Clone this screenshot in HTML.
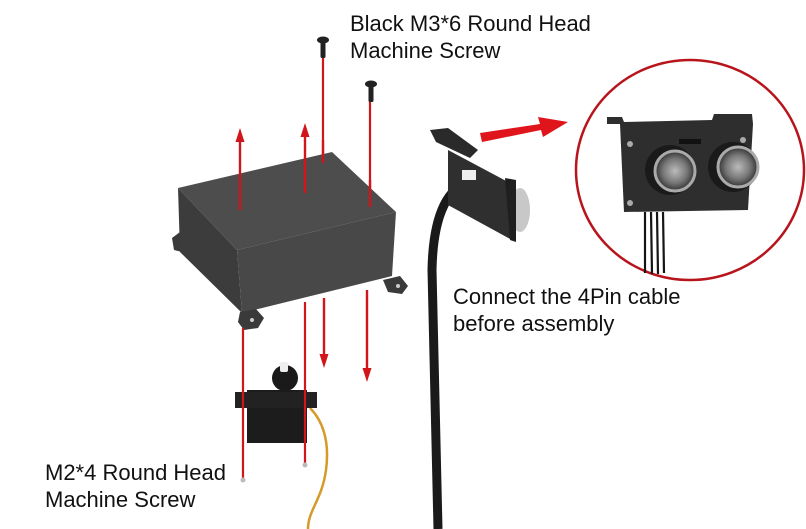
<!DOCTYPE html>
<html><head><meta charset="utf-8"><style>
html,body{margin:0;padding:0;background:#fff}
svg{display:block}
text{font-family:"Liberation Sans Narrow","Liberation Sans",sans-serif;font-size:22px;fill:#111}
</style></head><body>
<svg width="806" height="529" viewBox="0 0 806 529" xmlns="http://www.w3.org/2000/svg">
<defs>
<radialGradient id="lens" cx="50%" cy="50%" r="50%"><stop offset="0" stop-color="#bbb"/><stop offset="0.6" stop-color="#777"/><stop offset="1" stop-color="#333"/></radialGradient>
</defs>

<g stroke="#d0161b" stroke-width="2.2" fill="none">
<line x1="323" y1="58" x2="323" y2="163"/>
<line x1="370" y1="95" x2="370" y2="207"/>
</g>
<g fill="#222">
<ellipse cx="323" cy="40" rx="6" ry="3.5"/><rect x="320.5" y="41" width="5" height="17" rx="1.5"/>
<ellipse cx="371" cy="84" rx="6" ry="3.5"/><rect x="368.5" y="85" width="5" height="17" rx="1.5"/>
</g>

<!-- bracket -->
<g>
<path d="M172,238 L180,232 L182,252 L174,250 Z" fill="#3a3a3a"/>
<path d="M178,188 L237,250 L242,313 L180,252 Z" fill="#3c3c3c"/>
<path d="M178,188 L332,152 L396,212 L237,250 Z" fill="#4d4d4d"/>
<path d="M237,250 L396,212 L392,276 L242,313 Z" fill="#484848"/>
<path d="M383,280 L400,276 L408,286 L402,294 L388,292 Z" fill="#3a3a3a"/>
<circle cx="398" cy="286" r="2" fill="#ccc"/>
<path d="M240,312 L256,309 L264,318 L258,328 L244,330 L238,322 Z" fill="#3a3a3a"/>
<circle cx="252" cy="320" r="2" fill="#ccc"/>
</g>

<g stroke="#d0161b" stroke-width="2.4" fill="none">
<line x1="240" y1="210" x2="240" y2="140"/>
<line x1="305" y1="193" x2="305" y2="134"/>
<line x1="323" y1="140" x2="323" y2="163"/>
<line x1="370" y1="180" x2="370" y2="207"/>
<line x1="324" y1="298" x2="324" y2="356"/>
<line x1="367" y1="290" x2="367" y2="370"/>
</g>
<g fill="#d0161b">
<polygon points="240,128 235.5,142 244.5,142"/>
<polygon points="305,123 300.5,137 309.5,137"/>
<polygon points="324,368 319.5,354 328.5,354"/>
<polygon points="367,382 362.5,368 371.5,368"/>
</g>

<!-- servo -->
<g>
<path d="M310,408 C322,420 330,440 326,470 C322,500 308,510 308,529" stroke="#d49a2a" stroke-width="2.5" fill="none"/>
<rect x="247" y="390" width="60" height="53" fill="#1c1c1c"/>
<rect x="235" y="392" width="82" height="16" fill="#222"/>
<circle cx="285" cy="378" r="13" fill="#1a1a1a"/>
<rect x="280" y="362" width="8" height="10" rx="2" fill="#eee"/>
</g>
<g stroke="#d0161b" stroke-width="2.2" fill="none">
<line x1="243" y1="328" x2="243" y2="478"/>
<line x1="305" y1="302" x2="305" y2="463"/>
</g>
<circle cx="243" cy="480" r="2.5" fill="#bbb"/>
<circle cx="305" cy="465" r="2.5" fill="#bbb"/>

<!-- cable -->
<path d="M468,182 C445,190 433,220 432,270 L438,529" stroke="#1a1a1a" stroke-width="9" fill="none"/>

<!-- sensor module -->
<g>
<path d="M430,130 L448,128 L478,150 L470,158 L436,142 Z" fill="#2a2a2a"/>
<ellipse cx="520" cy="210" rx="10" ry="22" fill="#c8c8c8"/>
<path d="M448,150 L510,183 L512,240 L448,205 Z" fill="#2f2f2f"/>
<path d="M505,178 L516,180 L516,242 L510,240 Z" fill="#1f1f1f"/>
<rect x="462" y="170" width="14" height="10" fill="#eee"/>
</g>

<path d="M480,133 L540,124 L538,117 L568,122 L543,137 L541,130 L482,142 Z" fill="#e0151b"/>

<!-- circle detail -->
<ellipse cx="690" cy="170" rx="114" ry="110" fill="#fff" stroke="#b8141c" stroke-width="2.5"/>
<g>
<path d="M607,117 L622,117 L624,122 L712,120 L714,114 L752,114 L753,124 L748,210 L624,212 L620,124 L607,124 Z" fill="#2e2e2e"/>
<g stroke="#151515" stroke-width="2.2"><line x1="645" y1="212" x2="645" y2="273"/><line x1="651" y1="212" x2="652" y2="274"/><line x1="657" y1="212" x2="658" y2="274"/><line x1="663" y1="212" x2="664" y2="273"/></g>
<circle cx="670" cy="170" r="25" fill="#1a1a1a"/>
<circle cx="675" cy="171" r="20" fill="url(#lens)" stroke="#aaa" stroke-width="3"/>
<circle cx="733" cy="167" r="25" fill="#1a1a1a"/>
<circle cx="738" cy="167" r="20" fill="url(#lens)" stroke="#aaa" stroke-width="3"/>
<circle cx="630" cy="144" r="3" fill="#aaa"/><circle cx="743" cy="140" r="3" fill="#aaa"/><circle cx="630" cy="203" r="3" fill="#aaa"/>
<rect x="679" y="139" width="22" height="5" fill="#111"/>
</g>

<text x="350" y="31">Black M3*6 Round Head</text>
<text x="350" y="58">Machine Screw</text>
<text x="453" y="304">Connect the 4Pin cable</text>
<text x="453" y="331">before assembly</text>
<text x="45" y="480">M2*4 Round Head</text>
<text x="45" y="507">Machine Screw</text>
</svg>
</body></html>
